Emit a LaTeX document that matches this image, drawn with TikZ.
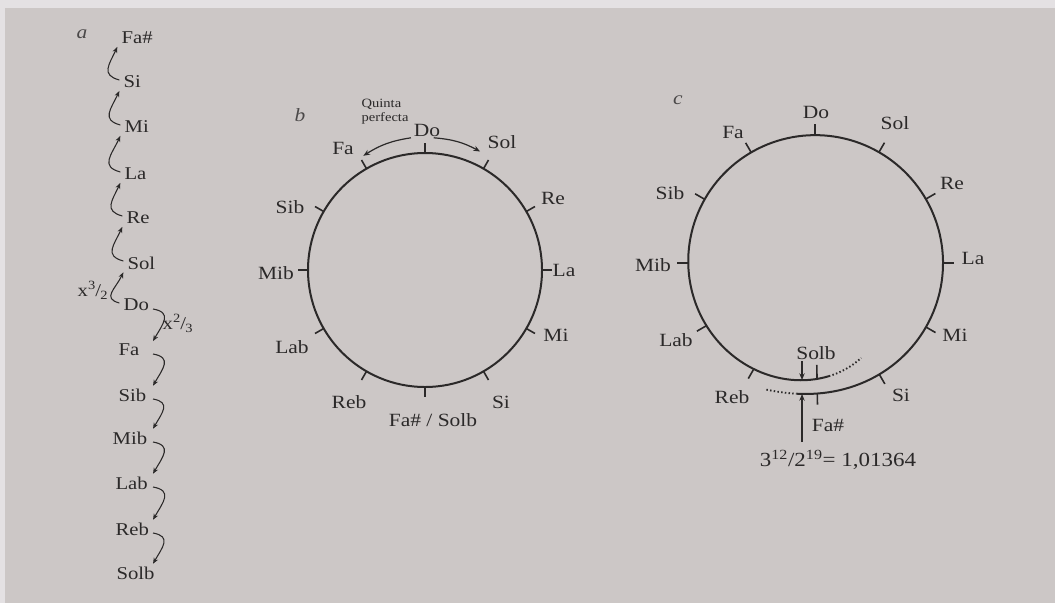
\documentclass[tikz,border=0pt]{standalone}
\usepackage{fontspec}
\setmainfont{Liberation Serif}[FakeStretch=1.15]
\usetikzlibrary{arrows.meta, calc, positioning}
\definecolor{bkPaper}{HTML}{CCC7C6}
\definecolor{bkEdge}{HTML}{E4E1E3}
\definecolor{bkInk}{HTML}{2B2929}
\tikzset{
  ring/.style      = {bkInk, line width=1.5pt},
  gapdots/.style   = {bkInk, line width=1.4pt, dash pattern=on 1.1pt off 1.7pt},
  tickmark/.style  = {bkInk, line width=1.2pt},
  lbl/.style       = {font=\fontsize{14}{16}\selectfont, text=bkInk, inner sep=1pt},
  alb/.style       = {font=\fontsize{13.5}{15}\selectfont, text=bkInk, inner sep=1pt, anchor=west},
  slbl/.style      = {font=\fontsize{9.5}{10.5}\selectfont, text=bkInk, inner sep=1pt, align=left},
  panel/.style     = {font=\fontsize{14}{16}\selectfont\itshape, text=bkInk!85},
  stepline/.style  = {bkInk, line width=0.8pt, -{Stealth[length=4.5pt, width=3.6pt]}},
  upbend/.style    = {out=165, in=-115, looseness=1.5},
  downbend/.style  = {out=-10, in=60, looseness=1.6},
  pointer/.style   = {bkInk, line width=0.9pt, -{Stealth[length=5pt, width=4pt]}},
}

\begin{document}
\begin{tikzpicture}[x=0.75pt, y=0.75pt]
  \useasboundingbox (0,0) rectangle (1055,-603);
  \fill[bkEdge] (0,0) rectangle (1055,-603);
  \fill[bkPaper] (5,-8) rectangle (1055,-603);

  % a: chain of fifths
  \node[panel] (a-tag) at (82,-34) {a};
  \foreach \p/\n/\t in {{(120,-38)}/fis/Fa\#, {(122,-82)}/si/Si, {(123,-127)}/mi/Mi,
      {(123,-174)}/la/La, {(125,-218)}/re/Re, {(126,-263)}/sol/Sol, {(122,-305)}/do/Do,
      {(117,-350)}/fa/Fa, {(117,-395)}/sib/Sib, {(111,-438)}/mib/Mib,
      {(114,-483)}/lab/Lab, {(114,-529)}/reb/Reb, {(115,-573)}/solb/Solb}
    \node[alb] (a-\n) at \p {\t};
  \coordinate (a-rail) at (153,0);
  \foreach \lo/\hi in {si/fis, mi/si, la/mi, re/la, sol/re, do/sol}
    \draw[stepline] ([shift={(-2pt,1.5pt)}]a-\lo.west) to[upbend] ([shift={(-2pt,-1pt)}]a-\hi.south west);
  \foreach \hi/\lo in {do/fa, fa/sib, sib/mib, mib/lab, lab/reb, reb/solb}
    \draw[stepline] ([yshift=-3pt]a-\hi.east -| a-rail) to[downbend] ([yshift=1pt]a-\lo.north -| a-rail);
  \node[alb, anchor=center] (a-up) at (93,-290) {x\textsuperscript{3}\kern-0.5pt/\kern-0.5pt\textsubscript{2}};
  \node[alb, anchor=center] (a-down) at (178,-323) {x\textsuperscript{2}\kern-0.5pt/\kern-0.5pt\textsubscript{3}};

  % b: closed circle
  \node[panel] (b-tag) at (300,-115) {b};
  \coordinate (bc) at (425,-270);
  \draw[ring] (bc) circle[radius=117];
  \foreach \a in {0,30,...,330}
    \draw[tickmark] ([shift={(\a:117)}]bc) -- ([shift={(\a:127)}]bc);
  \foreach \p/\n/\t in {{(427,-130)}/do/Do, {(502,-142)}/sol/Sol, {(553,-198)}/re/Re,
      {(564,-270)}/la/La, {(556,-335)}/mi/Mi, {(501,-402)}/si/Si, {(349,-402)}/reb/Reb,
      {(292,-347)}/lab/Lab, {(276,-273)}/mib/Mib, {(290,-207)}/sib/Sib, {(343,-148)}/fa/Fa}
    \node[lbl] (b-\n) at \p {\t};
  \node[lbl] (b-fs) at (433,-420) {Fa\# / Solb};
  \node[slbl, anchor=west] (b-q) at (360,-112) {Quinta\\perfecta};
  \draw[pointer] ([xshift=-1pt]b-do.south west) to[bend right=12] ([xshift=6pt]b-fa.south east);
  \draw[pointer] ([xshift=-6pt]b-do.south east) to[bend left=12] ([shift={(-4.5pt,-1pt)}]b-sol.south west);

  % c: spiral of fifths
  \node[panel] (c-tag) at (678,-100) {c};
  \begin{scope}[shift={(815,-263)}]
    \draw[ring] plot[domain=-98:277, samples=160, variable=\t]
      (\t:{128+4*exp(-(\t+98)/20)-14*exp(-(277-\t)/40)});
    \draw[gapdots] plot[domain=-111:-98, samples=12, variable=\t]
      (\t:{128+4*exp(-(\t+98)/20)-14*exp(-(277-\t)/40)});
    \draw[gapdots] plot[domain=277:296, samples=16, variable=\t]
      (\t:{128+4*exp(-(\t+98)/20)-14*exp(-(277-\t)/40)});
    \foreach \a in {-89,-60,-30,...,240} {
      \pgfmathsetmacro\rr{128+4*exp(-(\a+98)/20)-14*exp(-(277-\a)/40)}
      \draw[tickmark] (\a:\rr) -- (\a:{\rr+11});
    }
    \pgfmathsetmacro\rr{128+4*exp(-(271+98)/20)-14*exp(-(277-271)/40)}
    \draw[tickmark] (271:\rr) -- (271:{\rr-14});
  \end{scope}
  \foreach \p/\n/\t in {{(816,-112)}/do/Do, {(895,-123)}/sol/Sol, {(952,-183)}/re/Re,
      {(973,-258)}/la/La, {(955,-335)}/mi/Mi, {(901,-395)}/si/Si, {(732,-397)}/reb/Reb,
      {(676,-340)}/lab/Lab, {(653,-265)}/mib/Mib, {(670,-193)}/sib/Sib, {(733,-132)}/fa/Fa,
      {(816,-353)}/solb/Solb, {(828,-425)}/fis/Fa\#}
    \node[lbl] (c-\n) at \p {\t};
  \node[lbl, font=\fontsize{15}{17}\selectfont, inner ysep=6pt] (c-ratio) at (838,-460)
    {3\textsuperscript{12}/2\textsuperscript{19}= 1,01364};
  \coordinate (c-in) at (802,-380);
  \coordinate (c-out) at (802,-394);
  \draw[pointer] (c-solb.south west -| c-in) -- (c-in);
  \draw[pointer] (c-ratio.north -| c-out) -- (c-out);
\end{tikzpicture}
\end{document}
